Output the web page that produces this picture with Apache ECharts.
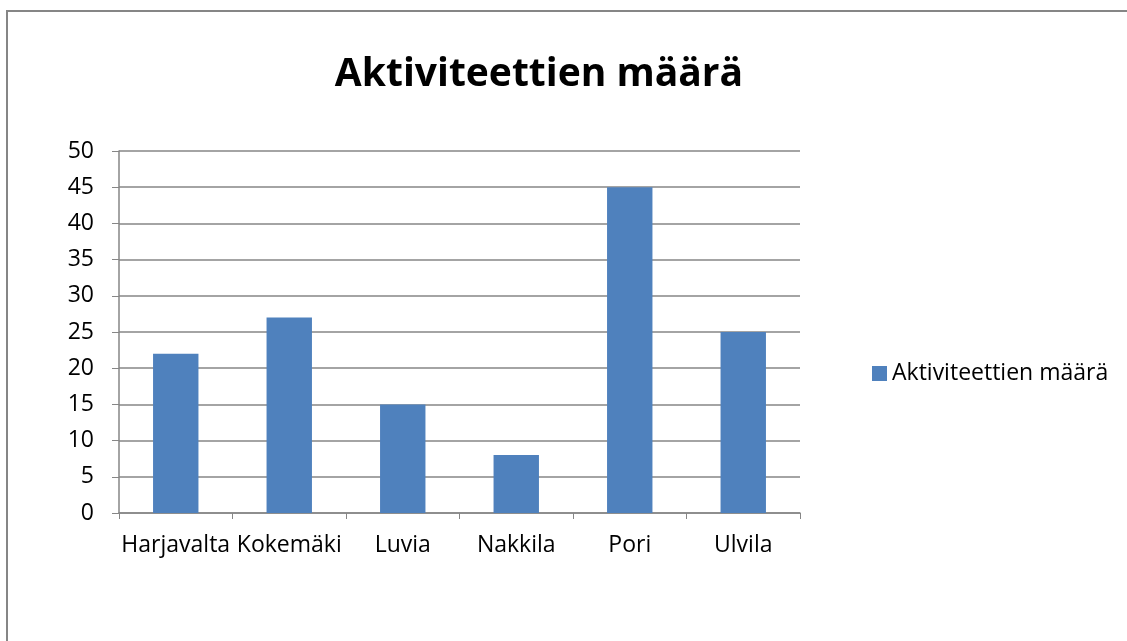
<!DOCTYPE html>
<html>
<head>
<meta charset="utf-8">
<script src="https://cdn.jsdelivr.net/npm/echarts@6/dist/echarts.min.js"></script>
<style>
  html, body { margin: 0; padding: 0; background: #fff; }
  #chart { width: 1127px; height: 641px; }
</style>
</head>
<body>
<div id="chart"></div>
<script>
// kaupungit
const categories = ['Harjavalta', 'Kokemäki', 'Luvia', 'Nakkila', 'Pori', 'Ulvila']
// aktiviteettien määrä
const values = [22, 27, 15, 8, 45, 25]
const seriesName = 'Aktiviteettien määrä'

const chart = echarts.init(document.getElementById('chart'), null, { renderer: 'canvas' })
const font = 'Open Sans'

chart.setOption({
  animation: false,
  backgroundColor: '#fff',
  graphic: [{
    type: 'rect',
    shape: { x: 7, y: 11, width: 1200, height: 700 },
    style: { fill: 'none', stroke: '#868686', lineWidth: 2 }
  }],
  title: {
    text: 'Aktiviteettien määrä',
    left: 534,
    textAlign: 'center',
    top: 50,
    textStyle: { fontFamily: font, fontSize: 39, fontWeight: 'bold', color: '#000' }
  },
  legend: {
    data: [seriesName],
    left: 867,
    top: 357,
    icon: 'rect',
    itemWidth: 15,
    itemHeight: 15,
    itemGap: 4,
    textStyle: { fontFamily: font, fontSize: 23, color: '#000' }
  },
  grid: { left: 119, right: 327, top: 151, bottom: 128 },
  xAxis: {
    type: 'category',
    data: categories,
    axisLine: { lineStyle: { color: '#868686', width: 1.5 } },
    axisTick: { show: true, length: 6, alignWithLabel: false, lineStyle: { color: '#868686' } },
    axisLabel: { fontFamily: font, fontSize: 23, color: '#000', margin: 21, interval: 0 }
  },
  yAxis: {
    type: 'value',
    min: 0,
    max: 50,
    interval: 5,
    axisLine: { show: true, lineStyle: { color: '#868686', width: 1.5 } },
    axisTick: { show: true, length: 7, lineStyle: { color: '#868686' } },
    axisLabel: { fontFamily: font, fontSize: 23, color: '#000', margin: 25 },
    splitLine: { lineStyle: { color: '#868686', width: 1.5 } }
  },
  series: [{
    name: seriesName,
    type: 'bar',
    data: values,
    barWidth: '40%',
    itemStyle: { color: '#4F81BD' }
  }]
})
</script>
</body>
</html>
